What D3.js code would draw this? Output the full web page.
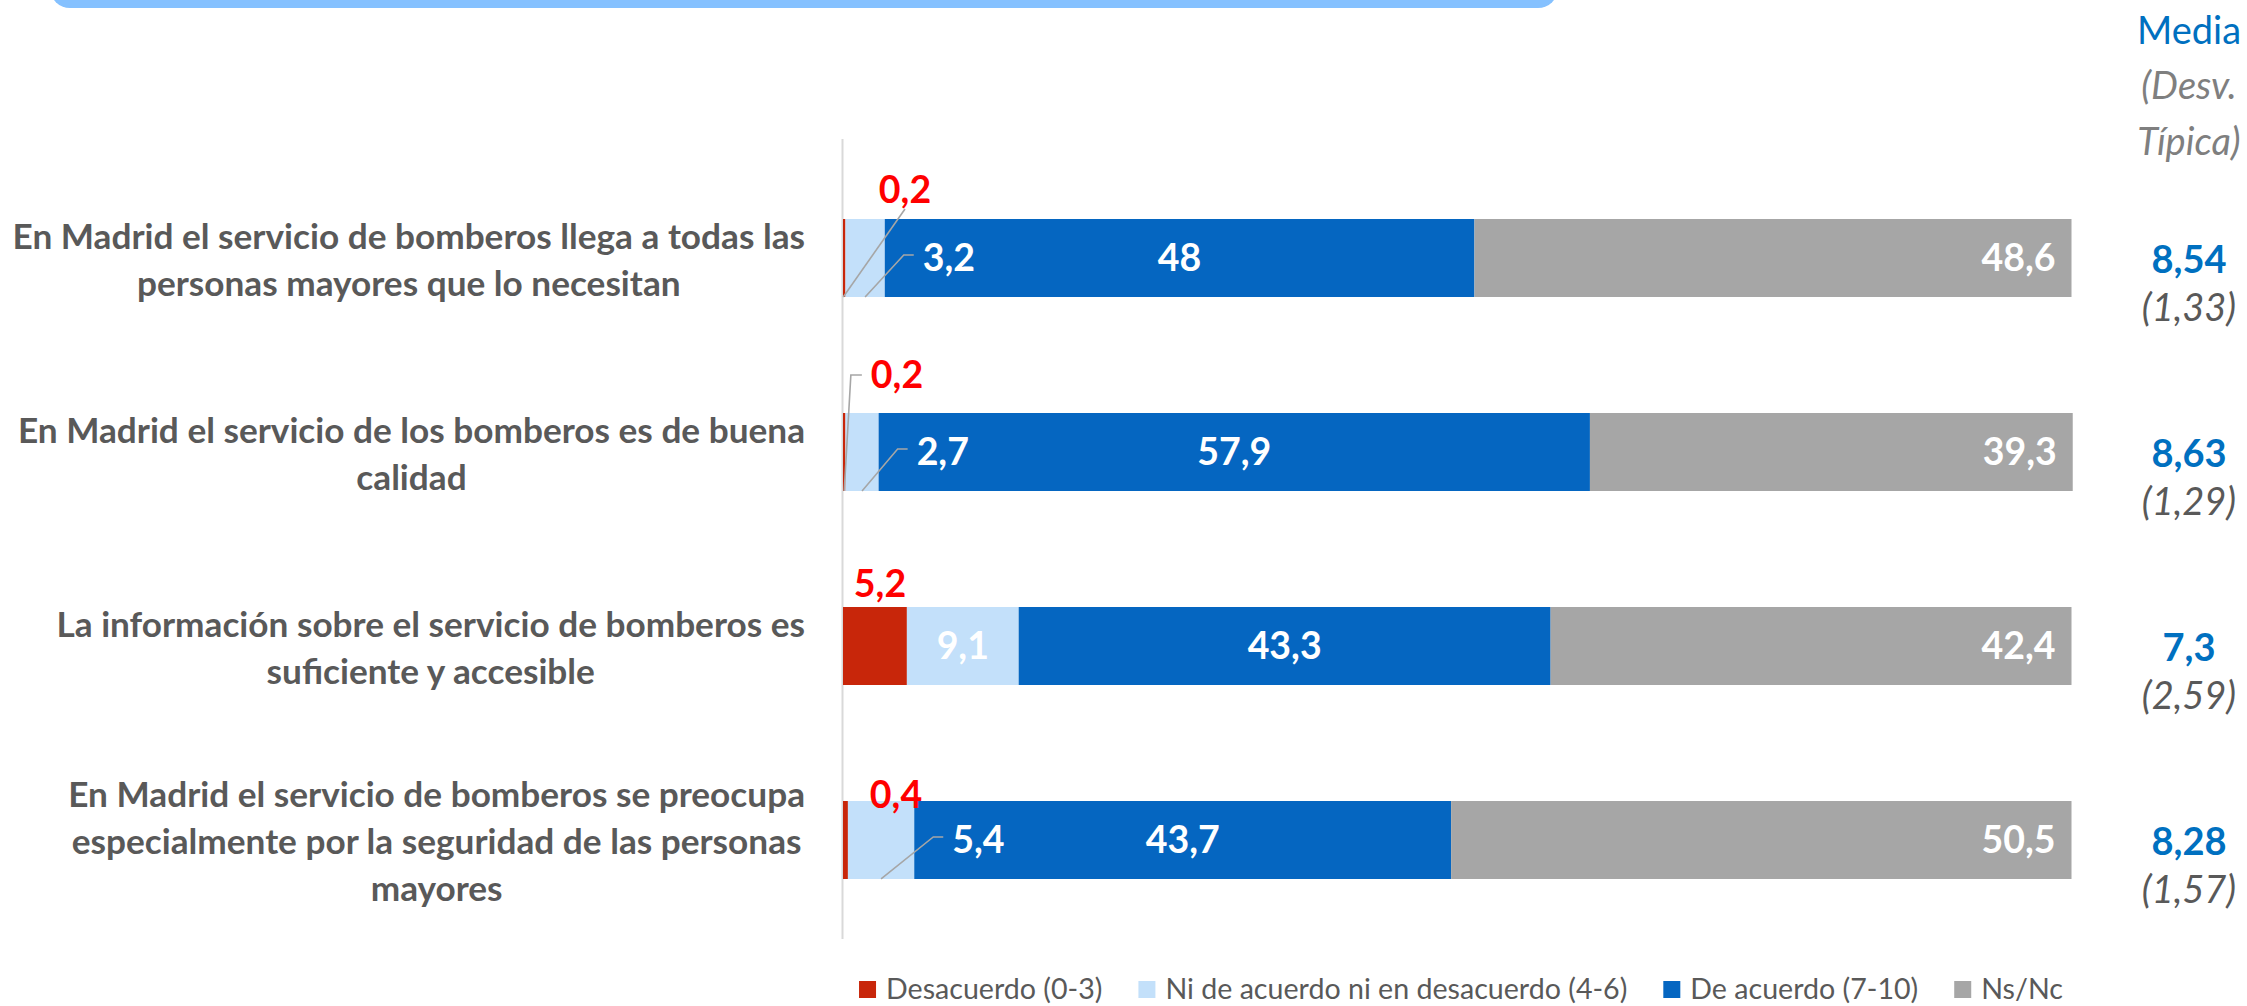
<!DOCTYPE html>
<html><head><meta charset="utf-8">
<script src="https://cdn.jsdelivr.net/npm/d3@7"></script>
<style>html,body{margin:0;padding:0;background:#fff;overflow:hidden}</style>
</head><body>
<svg id="chart" width="2247" height="1006"></svg>
<script>
// ---------- data ----------
const categories = [
  ["En Madrid el servicio de bomberos llega a todas las", "personas mayores que lo necesitan"],
  ["En Madrid el servicio de los bomberos es de buena", "calidad"],
  ["La información sobre el servicio de bomberos es", "suficiente y accesible"],
  ["En Madrid el servicio de bomberos se preocupa", "especialmente por la seguridad de las personas", "mayores"]
];
const seriesNames = ["Desacuerdo (0-3)", "Ni de acuerdo ni en desacuerdo (4-6)", "De acuerdo (7-10)", "Ns/Nc"];
const desacuerdo = [0.2, 0.2, 5.2, 0.4];
const neutral    = [3.2, 2.7, 9.1, 5.4];
const deAcuerdo  = [48, 57.9, 43.3, 43.7];
const nsnc       = [48.6, 39.3, 42.4, 50.5];
const media      = [8.54, 8.63, 7.3, 8.28];
const desvTipica = [1.33, 1.29, 2.59, 1.57];
const mediaHeader = ["Media", "(Desv.", "Típica)"];

// ---------- layout / style ----------
const W = 2247, H = 1006;
const colors = ["#C8260A", "#C3E0FA", "#0566C1", "#A6A6A6"];
const keys = ["des", "neu", "acu", "ns"];
const fontMain = "Lato, 'Open Sans', sans-serif";
// nudges for the small red labels (placement only)
const redDx = [62, 54, 37, 53];
const redLift = [16, 25, 10, -7];
const redLeader = ["diag", "elbow", null, null];

const fmt = v => String(v).replace(".", ",");

const svg = d3.select("#chart");

// top banner
svg.append("rect").attr("x", 50).attr("y", -40).attr("width", 1508).attr("height", 48)
  .attr("rx", 20).attr("fill", "#85C1FF");

const rows = categories.map((c, i) => ({ i, des: desacuerdo[i], neu: neutral[i], acu: deAcuerdo[i], ns: nsnc[i] }));
const stacked = d3.stack().keys(keys)(rows);

const x = d3.scaleLinear().domain([0, 100]).range([843, 2071.5]);
const y = d3.scaleBand().domain(d3.range(categories.length)).range([161, 937])
  .paddingInner(0.598).paddingOuter(0.299);
const bh = y.bandwidth();
const cy = i => y(i) + bh / 2;

// axis line
svg.append("line").attr("x1", x(0) - 0.5).attr("x2", x(0) - 0.5).attr("y1", 139).attr("y2", 939)
  .attr("stroke", "#D9D9D9").attr("stroke-width", 2);

// bars
svg.append("g").selectAll("g").data(stacked).join("g")
  .attr("fill", (d, k) => colors[k])
  .selectAll("rect").data(d => d).join("rect")
  .attr("x", d => x(d[0]))
  .attr("width", d => Math.max(0, x(d[1]) - x(d[0])))
  .attr("y", (d, i) => y(i))
  .attr("height", bh);

const gl = svg.append("g").attr("font-family", fontMain).attr("font-weight", 700).attr("font-size", 37.5);
const leaders = svg.append("g").attr("fill", "none").attr("stroke", "#A6A6A6").attr("stroke-width", 1.6);

rows.forEach((r, i) => {
  const sDes = stacked[0][i], sNeu = stacked[1][i], sAcu = stacked[2][i], sNs = stacked[3][i];
  const c = cy(i), top = y(i), bot = y(i) + bh;
  // De acuerdo (centered)
  gl.append("text").attr("x", (x(sAcu[0]) + x(sAcu[1])) / 2).attr("y", c + 13)
    .attr("text-anchor", "middle").attr("fill", "#fff").text(fmt(deAcuerdo[i]));
  // Ns/Nc (right)
  gl.append("text").attr("x", x(sNs[1]) - 16).attr("y", c + 13)
    .attr("text-anchor", "end").attr("fill", "#fff").text(fmt(nsnc[i]));
  // neutral
  const nw = x(sNeu[1]) - x(sNeu[0]);
  if (nw > 70) {
    gl.append("text").attr("x", (x(sNeu[0]) + x(sNeu[1])) / 2).attr("y", c + 13)
      .attr("text-anchor", "middle").attr("fill", "#fff").text(fmt(neutral[i]));
  } else {
    const lx = x(sNeu[1]) + 38;
    gl.append("text").attr("x", lx).attr("y", c + 13).attr("fill", "#fff").text(fmt(neutral[i]));
    const segC = (x(sNeu[0]) + x(sNeu[1])) / 2;
    leaders.append("polyline").attr("points", [[segC, bot], [lx - 19, c - 3], [lx - 9, c - 3]].map(p => p.join(",")).join(" "));
  }
  // desacuerdo (red, above the bar)
  const rx = x(0) + redDx[i], rb = top - redLift[i];
  const t = gl.append("text").attr("x", rx).attr("y", rb).attr("text-anchor", "middle")
    .attr("fill", "#FF0000").text(fmt(desacuerdo[i]));
  const segC = (x(sDes[0]) + x(sDes[1])) / 2;
  if (redLeader[i] === "diag") {
    leaders.append("polyline").attr("points", [[segC - 1, bot], [rx, rb + 6]].map(p => p.join(",")).join(" "));
  } else if (redLeader[i] === "elbow") {
    const w = t.node().getComputedTextLength();
    const lx = rx - w / 2, my = rb - 13;
    leaders.append("polyline").attr("points", [[segC, bot], [lx - 20, my], [lx - 9, my]].map(p => p.join(",")).join(" "));
  }
});

// category labels
const gc = svg.append("g").attr("font-family", fontMain).attr("font-weight", 700)
  .attr("font-size", 35.2).attr("fill", "#595959");
categories.forEach((lines, i) => {
  const g = gc.append("g");
  const ts = lines.map((l, j) => g.append("text").attr("text-anchor", "middle")
    .attr("y", cy(i) + 2 + (j - (lines.length - 1) / 2) * 47 + 12).text(l));
  const maxW = d3.max(ts, t => t.node().getComputedTextLength());
  ts.forEach(t => t.attr("x", 805 - maxW / 2));
});

// media column
const gm = svg.append("g").attr("font-family", fontMain).attr("font-size", 38).attr("text-anchor", "middle");
const hdrY = [44, 99, 155];
mediaHeader.forEach((h, j) => {
  gm.append("text").attr("x", 2189).attr("y", hdrY[j])
    .attr("fill", j === 0 ? "#0070C0" : "#7F7F7F")
    .attr("font-style", j === 0 ? "normal" : "italic").text(h);
});
media.forEach((m, i) => {
  gm.append("text").attr("x", 2189).attr("y", cy(i) + 15).attr("font-weight", 700)
    .attr("fill", "#0070C0").text(fmt(m));
  gm.append("text").attr("x", 2189).attr("y", cy(i) + 63).attr("font-style", "italic")
    .attr("fill", "#595959").text("(" + fmt(desvTipica[i]) + ")");
});

// legend
const lg = svg.append("g").attr("font-family", fontMain).attr("font-size", 28.6).attr("fill", "#595959");
const items = seriesNames.map((n, k) => {
  const g = lg.append("g");
  g.append("rect").attr("width", 17).attr("height", 17).attr("y", 981).attr("fill", colors[k]);
  const t = g.append("text").attr("x", 27).attr("y", 999).text(n);
  return { g, w: 27 + t.node().getComputedTextLength() };
});
const gap = 36;
const total = d3.sum(items, d => d.w) + gap * (items.length - 1);
let cx0 = 1461 - total / 2;
items.forEach(it => { it.g.attr("transform", `translate(${cx0},0)`); cx0 += it.w + gap; });
</script>
</body></html>
